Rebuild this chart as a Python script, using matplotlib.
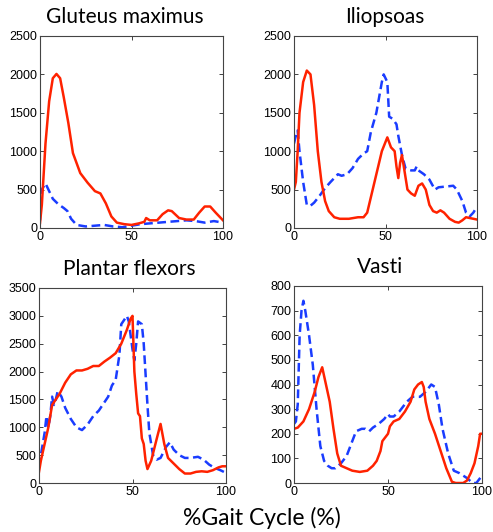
import matplotlib.pyplot as plt

# gait cycle data (x in %, y in N)
glut_red_x = [0, 1, 2, 3, 5, 7, 9, 11, 13, 15.5, 18, 22, 26, 30, 33, 36, 39, 42, 46, 50, 54, 57, 58, 60, 64, 67, 70, 72, 76, 80, 84, 87, 90, 93, 96, 100]
glut_red_y = [65, 300, 700, 1100, 1650, 1950, 2006, 1950, 1700, 1365, 975, 715, 590, 480, 450, 320, 150, 70, 50, 40, 60, 80, 130, 100, 100, 180, 230, 220, 130, 110, 110, 200, 280, 280, 200, 100]
glut_blue_x = [0, 0.5, 1, 3, 5, 7, 10, 13, 15, 17, 20, 25, 30, 35, 40, 45, 50, 55, 60, 65, 70, 75, 80, 85, 90, 95, 100]
glut_blue_y = [100, 450, 500, 580, 480, 380, 310, 260, 220, 120, 40, 20, 30, 40, 20, 10, 30, 50, 60, 70, 80, 90, 100, 90, 70, 90, 70]

ilio_red_x = [0, 1, 2, 3, 5, 7, 9, 11, 13, 15, 17, 19, 22, 25, 30, 35, 38, 40, 42, 45, 48, 51, 53, 55, 56, 57, 58, 59, 60, 62, 64, 66, 68, 70, 72, 74, 76, 78, 80, 82, 85, 88, 90, 92, 94, 96, 100]
ilio_red_y = [500, 600, 1000, 1500, 1900, 2050, 2000, 1600, 1000, 600, 350, 220, 140, 120, 120, 140, 140, 200, 400, 700, 1000, 1180, 1050, 1000, 800, 650, 850, 950, 800, 500, 450, 420, 550, 580, 500, 300, 220, 200, 230, 200, 120, 80, 70, 100, 140, 130, 110]
ilio_blue_x = [0, 1, 2, 3, 5, 7, 9, 11, 14, 17, 20, 24, 26, 29, 32, 35, 38, 40, 42, 45, 48, 49, 51, 52, 54, 56, 57, 59, 61, 64, 66, 67, 68, 71, 74, 77, 79, 83, 87, 89, 92, 94, 96, 98, 100]
ilio_blue_y = [1100, 1200, 1270, 1000, 600, 300, 290, 330, 420, 520, 600, 700, 680, 700, 780, 900, 970, 1000, 1250, 1500, 1900, 2000, 1900, 1450, 1420, 1350, 1200, 950, 770, 750, 750, 800, 750, 700, 630, 500, 530, 540, 550, 500, 350, 200, 150, 200, 280]

plan_red_x = [0, 1, 3, 5, 7, 9, 11, 14, 17, 20, 23, 26, 29, 32, 35, 38, 41, 44, 47, 49, 50, 51, 52, 53, 54, 55, 56, 57, 58, 60, 63, 65, 67, 69, 72, 75, 78, 81, 84, 87, 90, 93, 96, 98, 100]
plan_red_y = [200, 400, 700, 1000, 1400, 1500, 1600, 1800, 1950, 2020, 2020, 2050, 2100, 2100, 2180, 2250, 2330, 2500, 2750, 2950, 3000, 2000, 1600, 1250, 1200, 800, 700, 400, 250, 400, 800, 1060, 700, 450, 350, 250, 170, 170, 200, 210, 200, 230, 280, 300, 300]
plan_blue_x = [0, 1, 2, 3, 4, 5, 6, 7, 8, 9, 10, 12, 14, 17, 20, 23, 26, 29, 32, 35, 37, 39, 41, 43, 44, 45, 47, 48, 50, 51, 52, 53, 55, 56, 58, 59, 61, 63, 65, 68, 70, 72, 75, 78, 81, 85, 88, 91, 94, 97, 100]
plan_blue_y = [300, 500, 700, 900, 1200, 1000, 1200, 1550, 1400, 1500, 1650, 1550, 1350, 1150, 1000, 950, 1050, 1200, 1300, 1450, 1550, 1750, 1850, 2300, 2850, 2900, 3000, 2900, 2400, 2200, 2500, 2900, 2850, 2500, 1400, 900, 500, 420, 450, 650, 730, 600, 500, 450, 450, 470, 420, 330, 270, 230, 180]

vast_red_x = [0, 2, 5, 8, 11, 13, 15, 17, 19, 21, 23, 25, 28, 31, 35, 39, 42, 44, 46, 47, 49, 50, 51, 53, 56, 59, 62, 64, 66, 68, 69, 70, 72, 75, 78, 81, 84, 86, 90, 92, 94, 96, 98, 99, 100]
vast_red_y = [220, 225, 250, 300, 370, 430, 470, 400, 330, 220, 120, 70, 60, 50, 45, 50, 70, 90, 130, 170, 190, 200, 230, 250, 260, 290, 330, 380, 400, 410, 390, 330, 260, 200, 130, 60, 5, 0, 0, 10, 40, 80, 150, 200, 200]
vast_blue_x = [0, 1, 2, 3, 4, 5, 6, 8, 10, 12, 14, 16, 18, 20, 22, 25, 28, 30, 33, 36, 38, 40, 42, 45, 48, 50, 51, 53, 56, 60, 63, 67, 70, 73, 75, 77, 79, 82, 85, 88, 92, 95, 97, 99, 100]
vast_blue_y = [240, 250, 320, 600, 700, 740, 700, 600, 480, 300, 150, 90, 70, 60, 60, 80, 110, 150, 210, 220, 220, 210, 225, 240, 260, 280, 270, 270, 290, 330, 350, 350, 370, 400, 390, 320, 220, 120, 50, 40, 20, 0, 0, 20, 30]

titles = ['Gluteus maximus', 'Iliopsoas', 'Plantar flexors', 'Vasti']
ylims = [2500, 2500, 3500, 800]
ysteps = [500, 500, 500, 100]

panels = [
    (glut_red_x, glut_red_y, glut_blue_x, glut_blue_y),
    (ilio_red_x, ilio_red_y, ilio_blue_x, ilio_blue_y),
    (plan_red_x, plan_red_y, plan_blue_x, plan_blue_y),
    (vast_red_x, vast_red_y, vast_blue_x, vast_blue_y),
]

# axes boxes in pixels (left, top, right, bottom), and title centres
W, H = 493, 532
boxes = [(40, 36, 223, 228), (294, 36, 477, 228), (39, 288, 226, 483), (294, 286, 482, 483)]
title_x = [125, 385, 129, 380]

fig = plt.figure(figsize=(W / 100, H / 100), dpi=100)
for i, (rx, ry, bx, by) in enumerate(panels):
    x0, y0, x1, y1 = boxes[i]
    ax = fig.add_axes([x0 / W, 1 - y1 / H, (x1 - x0) / W, (y1 - y0) / H])
    ax.plot(bx, by, color='#1a3cff', lw=1.8, ls=(0, (3.5, 1.8)))
    ax.plot(rx, ry, color='#ff2200', lw=1.8)
    ax.set_xlim(0, 100)
    ax.set_ylim(0, ylims[i])
    ax.set_xticks([0, 50, 100])
    ax.set_yticks(range(0, ylims[i] + 1, ysteps[i]))
    ax.tick_params(direction='in', top=True, right=True, length=3, width=0.6,
                   labelsize=9, pad=2, colors='#222222')
    for lab in ax.get_xticklabels() + ax.get_yticklabels():
        lab.set_family('Liberation Sans')
        lab.set_color('black')
    for s in ax.spines.values():
        s.set_linewidth(0.8)
        s.set_color('#444444')
    fig.text(title_x[i] / W, 1 - (y0 - 19) / H, titles[i], family='Lato',
             fontsize=15, ha='center', va='center')

fig.text(262 / W, 1 - 518 / H, '%Gait Cycle (%)', family='Lato', fontsize=16.5,
         ha='center', va='center')

fig.savefig('out.png', dpi=100)
